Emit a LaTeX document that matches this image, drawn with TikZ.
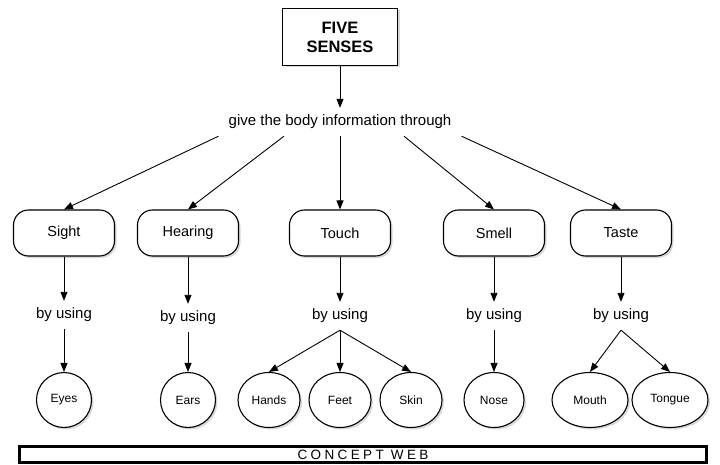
\documentclass[tikz,border=0pt]{standalone}
\usepackage{fontspec}
\setmainfont{Liberation Sans}
\usetikzlibrary{arrows.meta,positioning,shapes,shadows}

\begin{document}
\begin{tikzpicture}[x=1pt,y=-1pt]
\tikzstyle{soft}=[drop shadow={shadow xshift=2pt,shadow yshift=-2pt,opacity=.3}]
\tikzstyle{topbox}=[draw=black,line width=1.8pt,fill=white,rectangle,soft,minimum width=115pt,minimum height=57pt,align=center,font=\fontsize{16.5}{19}\selectfont\bfseries]
\tikzstyle{sense}=[draw=black,line width=1.1pt,fill=white,rounded corners=15pt,soft,minimum width=101pt,minimum height=46pt,font=\fontsize{14.5}{16}\selectfont]
\tikzstyle{leaf}=[draw=black,line width=1.1pt,fill=white,ellipse,soft,inner sep=0pt,minimum height=55pt,font=\fontsize{12}{14}\selectfont]
\tikzstyle{phrase}=[inner sep=0pt,minimum height=28pt,font=\fontsize{15}{17}\selectfont]
\tikzstyle{arrow}=[line width=0.9pt,->,>={Triangle[length=9pt,width=7pt]}]
\useasboundingbox (0,0) rectangle (720,465);
\node [topbox] at (340,37) (five) {FIVE\\SENSES};
\node [phrase,inner xsep=10pt] at (340,122) (give) {give the body information through};
% senses
\node [sense] at (64,233) (sight) {Sight};
\node [sense] at (188,233) (hearing) {Hearing};
\node [sense] at (340,233) (touch) {Touch};
\node [sense] at (494,233) (smell) {Smell};
\node [sense] at (621,233) (taste) {Taste};
% by using
\node [phrase] at (64,315) (bsight) {by using};
\node [phrase] at (188,318) (bhearing) {by using};
\node [phrase] at (340,316) (btouch) {by using};
\node [phrase] at (494,316) (bsmell) {by using};
\node [phrase] at (621,316) (btaste) {by using};
% organs
\node [leaf,minimum width=55pt] at (64,400) (eyes) {Eyes};
\node [leaf,minimum width=55pt] at (188,400) (ears) {Ears};
\node [leaf,minimum width=62pt] at (269,400) (hands) {Hands};
\node [leaf,minimum width=62pt] at (340,400) (feet) {Feet};
\node [leaf,minimum width=62pt] at (411,400) (skin) {Skin};
\node [leaf,minimum width=60pt] at (494,400) (nose) {Nose};
\node [leaf,minimum width=76pt] at (590,400) (mouth) {Mouth};
\node [leaf,minimum width=76pt] at (670,400) (tongue) {Tongue};
\node [draw=black,line width=3pt,inner sep=0pt,minimum width=687pt,minimum height=16pt,font=\fontsize{13.5}{14}\selectfont\addfontfeature{LetterSpace=25}] at (363,454.5) (web) {CONCEPT WEB};
\draw [arrow] (five) -- (give);
\draw [arrow] (give.south west) -- (sight.north);
\draw [arrow] ([xshift=-56pt]give.south) -- (hearing.north);
\draw [arrow] (give.south) -- (touch.north);
\draw [arrow] ([xshift=64pt]give.south) -- (smell.north);
\draw [arrow] (give.south east) -- (taste.north);
\draw [arrow] (sight) -- (bsight);
\draw [arrow] (hearing) -- (bhearing);
\draw [arrow] (touch) -- (btouch);
\draw [arrow] (smell) -- (bsmell);
\draw [arrow] (taste) -- (btaste);
\draw [arrow] (bsight) -- (eyes);
\draw [arrow] (bhearing) -- (ears);
\draw [arrow] (btouch.south) -- (hands.north);
\draw [arrow] (btouch) -- (feet);
\draw [arrow] (btouch.south) -- (skin.north);
\draw [arrow] (bsmell) -- (nose);
\draw [arrow] (btaste.south) -- (mouth.north);
\draw [arrow] (btaste.south) -- (tongue.north);
\end{tikzpicture}
\end{document}
